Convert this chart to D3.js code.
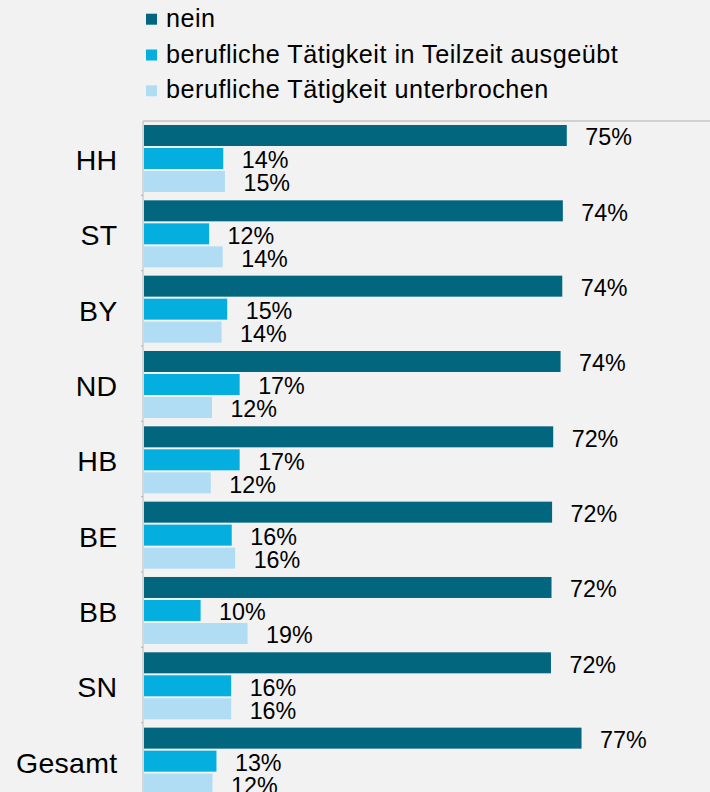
<!DOCTYPE html>
<html>
<head>
<meta charset="utf-8">
<script src="https://cdn.jsdelivr.net/npm/d3@7"></script>
<style>
  html, body { margin: 0; padding: 0; background: #f2f2f2; }
  svg { display: block; font-family: "Liberation Sans", Arial, sans-serif; }
</style>
</head>
<body>
<svg id="chart" width="710" height="792"></svg>
<script>
// categories (top to bottom)
const categories = ['HH', 'ST', 'BY', 'ND', 'HB', 'BE', 'BB', 'SN', 'Gesamt'];
const seriesNames = ['nein', 'berufliche Tätigkeit in Teilzeit ausgeübt', 'berufliche Tätigkeit unterbrochen'];
const seriesColors = ['#03667f', '#04afdf', '#b0dcf4'];

// bar lengths in percent
const nein = [74.7, 74.0, 73.9, 73.6, 72.3, 72.1, 72.0, 71.9, 77.3];
const teilzeit = [14.0, 11.5, 14.7, 16.9, 16.9, 15.5, 10.0, 15.4, 12.8];
const unterbrochen = [14.3, 13.9, 13.7, 12.0, 11.8, 16.1, 18.3, 15.4, 12.1];

// printed data labels
const neinLabels = ['75%', '74%', '74%', '74%', '72%', '72%', '72%', '72%', '77%'];
const teilzeitLabels = ['14%', '12%', '15%', '17%', '17%', '16%', '10%', '16%', '13%'];
const unterbrochenLabels = ['15%', '14%', '14%', '12%', '12%', '16%', '19%', '16%', '12%'];

const values = [nein, teilzeit, unterbrochen];
const labels = [neinLabels, teilzeitLabels, unterbrochenLabels];

const svg = d3.select('#chart');

// scales
const plotLeft = 144, plotTop = 120, groupStep = 75.33;
const x = d3.scaleLinear().domain([0, 100]).range([plotLeft, plotLeft + 566]);
const y = d3.scaleBand().domain(categories)
  .range([plotTop, plotTop + groupStep * categories.length]).padding(0);
const ySub = d3.scaleBand().domain(d3.range(seriesNames.length))
  .range([5, 72]).paddingInner(2 / 23).paddingOuter(0);

// frame lines
svg.append('line')
  .attr('x1', plotLeft - 1).attr('x2', 710)
  .attr('y1', plotTop + 1).attr('y2', plotTop + 1)
  .attr('stroke', '#c4c4c4').attr('stroke-width', 1.5);
svg.append('line')
  .attr('x1', plotLeft - 1).attr('x2', plotLeft - 1)
  .attr('y1', plotTop + 1).attr('y2', 792)
  .attr('stroke', '#cccccc').attr('stroke-width', 1.5);

// small ticks between groups
svg.selectAll('.tick')
  .data(categories.slice(1))
  .enter().append('line')
  .attr('x1', plotLeft - 3).attr('x2', plotLeft - 1)
  .attr('y1', d => y(d)).attr('y2', d => y(d))
  .attr('stroke', '#b0b0b0').attr('stroke-width', 1);

// category labels
svg.selectAll('.cat')
  .data(categories)
  .enter().append('text')
  .attr('x', 117.5)
  .attr('y', d => y(d) + y.bandwidth() / 2 + 12.5)
  .attr('text-anchor', 'end')
  .attr('font-size', 28.5)
  .attr('letter-spacing', 0.3)
  .attr('fill', '#000')
  .text(d => d);

// bars + labels
seriesNames.forEach((name, s) => {
  const g = svg.append('g');
  g.selectAll('rect')
    .data(categories)
    .enter().append('rect')
    .attr('x', x(0))
    .attr('y', d => y(d) + ySub(s))
    .attr('width', (d, i) => x(values[s][i]) - x(0))
    .attr('height', ySub.bandwidth())
    .attr('fill', seriesColors[s]);

  g.selectAll('text')
    .data(categories)
    .enter().append('text')
    .attr('x', (d, i) => x(values[s][i]) + 18.5)
    .attr('y', (d, i) => y(d) + ySub(s) + ySub.bandwidth() / 2 + 9.7)
    .attr('font-size', 23.3)
    .attr('fill', '#000')
    .text((d, i) => labels[s][i]);
});

// legend
const legend = svg.append('g');
seriesNames.forEach((name, s) => {
  const ly = 26.7 + s * 35.8;
  legend.append('rect')
    .attr('x', 146).attr('y', ly - 13)
    .attr('width', 11).attr('height', 11)
    .attr('fill', seriesColors[s]);
  legend.append('text')
    .attr('x', 166).attr('y', ly)
    .attr('font-size', 25.2)
    .attr('letter-spacing', 0.5)
    .attr('fill', '#000')
    .text(name);
});
</script>
</body>
</html>
